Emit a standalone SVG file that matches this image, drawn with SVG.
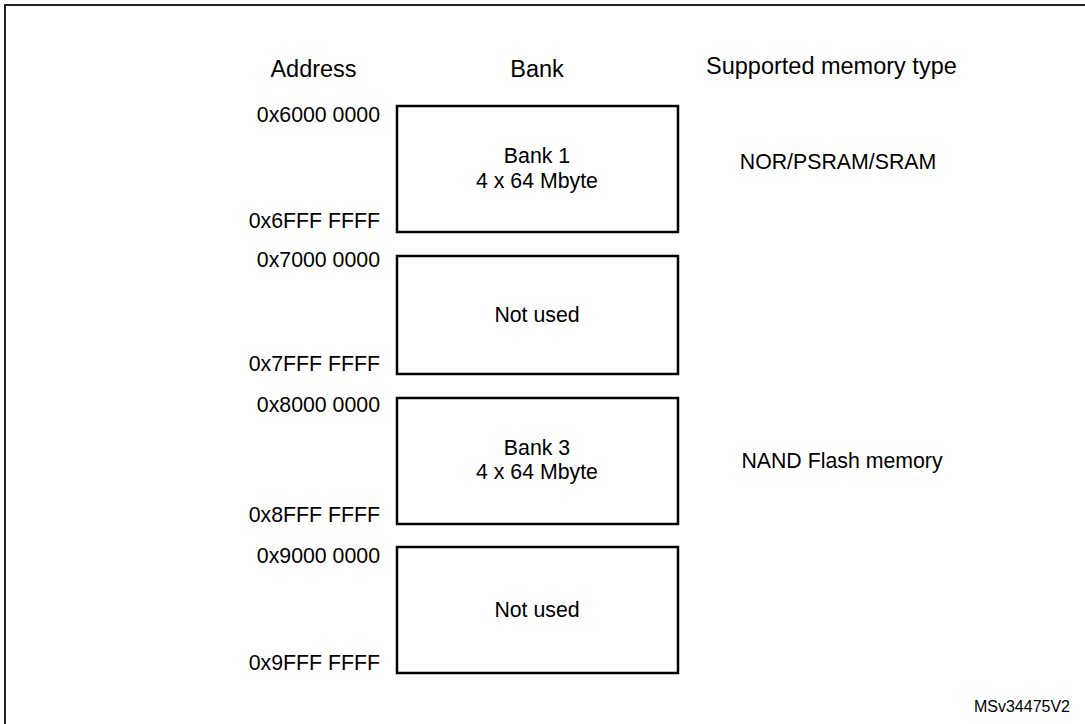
<svg xmlns="http://www.w3.org/2000/svg" width="1085" height="724" viewBox="0 0 1085 724">
<style>
text{font-family:"Liberation Sans",Arial,sans-serif;fill:#000}
.h{font-size:23.5px}
.a{font-size:21.3px;text-anchor:end}
.c{font-size:21.3px;text-anchor:middle}
.bx{fill:#fff;stroke:#000;stroke-width:2.5}
</style>
<rect width="1085" height="724" fill="#fff"/>
<path d="M5,730 V5 H1090" fill="none" stroke="#222" stroke-width="2"/>
<text class="h" x="313.5" y="77" text-anchor="middle">Address</text>
<text class="h" x="537" y="77" text-anchor="middle">Bank</text>
<text class="h" x="706" y="74">Supported memory type</text>
<g id="bank1"><rect class="bx" x="397" y="106" width="281" height="126"/>
<text class="c" x="537" y="163">Bank 1</text><text class="c" x="537" y="188">4 x 64 Mbyte</text></g>
<g id="bank2"><rect class="bx" x="397" y="256" width="281" height="118"/>
<text class="c" x="537" y="322">Not used</text></g>
<g id="bank3"><rect class="bx" x="397" y="398" width="281" height="126"/>
<text class="c" x="537" y="455">Bank 3</text><text class="c" x="537" y="479">4 x 64 Mbyte</text></g>
<g id="bank4"><rect class="bx" x="397" y="547" width="281" height="126"/>
<text class="c" x="537" y="617">Not used</text></g>
<g id="addr">
<text class="a" x="380" y="122">0x6000 0000</text>
<text class="a" x="380" y="228">0x6FFF FFFF</text>
<text class="a" x="380" y="267">0x7000 0000</text>
<text class="a" x="380" y="371">0x7FFF FFFF</text>
<text class="a" x="380" y="412">0x8000 0000</text>
<text class="a" x="380" y="522">0x8FFF FFFF</text>
<text class="a" x="380" y="563">0x9000 0000</text>
<text class="a" x="380" y="670">0x9FFF FFFF</text>
</g>
<text x="838" y="169" style="font-size:21.3px" text-anchor="middle">NOR/PSRAM/SRAM</text>
<text x="842" y="468" style="font-size:21.3px" text-anchor="middle">NAND Flash memory</text>
<text x="1070" y="712" style="font-size:16px" text-anchor="end">MSv34475V2</text>
</svg>
